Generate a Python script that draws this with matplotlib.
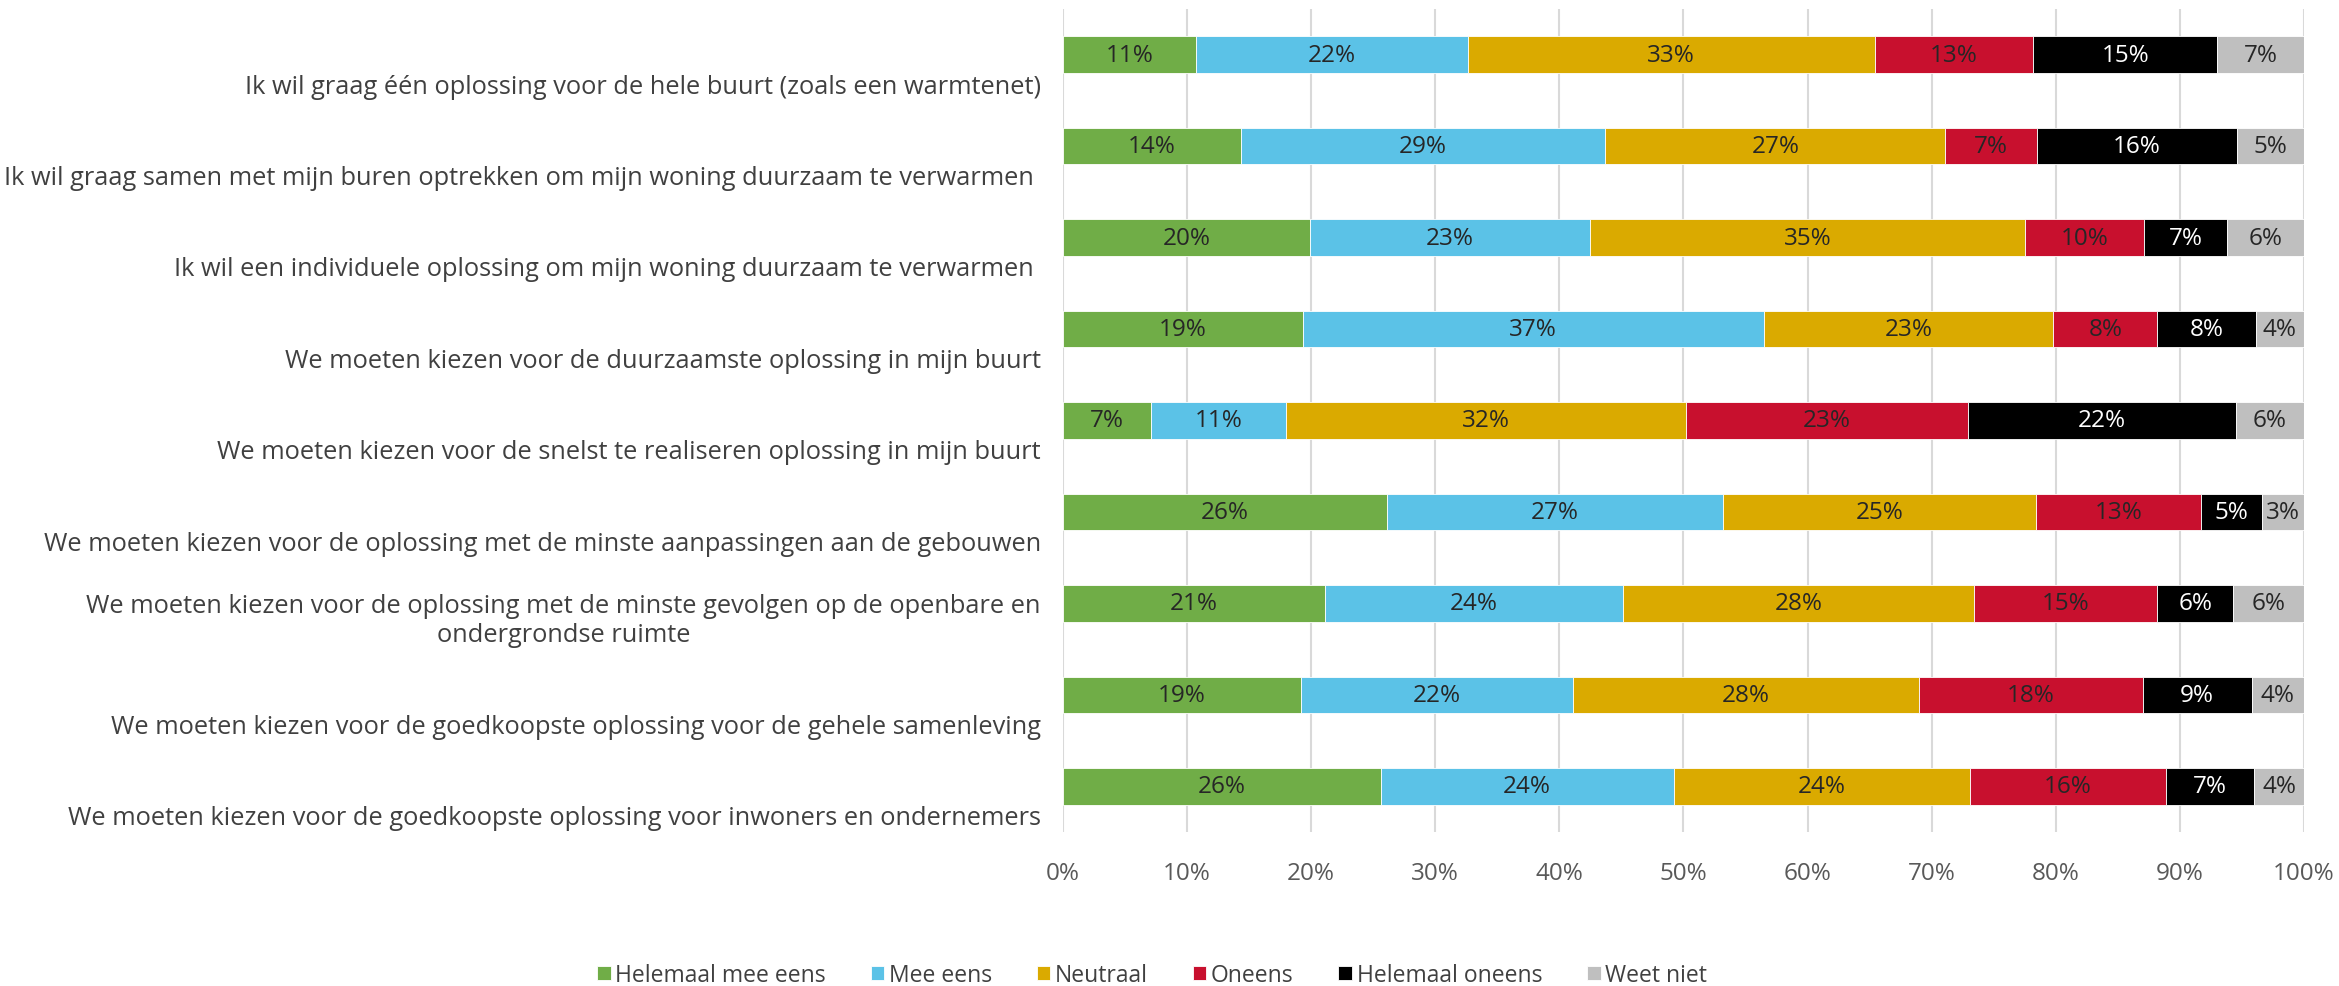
import matplotlib.pyplot as plt
import numpy as np

plt.rcParams['font.family'] = ['Open Sans', 'DejaVu Sans']

# categorieen (van boven naar beneden)
categories = [
    'Ik wil graag één oplossing voor de hele buurt (zoals een warmtenet)',
    'Ik wil graag samen met mijn buren optrekken om mijn woning duurzaam te verwarmen ',
    'Ik wil een individuele oplossing om mijn woning duurzaam te verwarmen ',
    'We moeten kiezen voor de duurzaamste oplossing in mijn buurt',
    'We moeten kiezen voor de snelst te realiseren oplossing in mijn buurt',
    'We moeten kiezen voor de oplossing met de minste aanpassingen aan de gebouwen',
    'We moeten kiezen voor de oplossing met de minste gevolgen op de openbare en\nondergrondse ruimte',
    'We moeten kiezen voor de goedkoopste oplossing voor de gehele samenleving',
    'We moeten kiezen voor de goedkoopste oplossing voor inwoners en ondernemers',
]

series_names = ['Helemaal mee eens', 'Mee eens', 'Neutraal', 'Oneens',
                'Helemaal oneens', 'Weet niet']

helemaal_mee_eens = [10.7, 14.3, 19.9, 19.3, 7.1, 26.1, 21.1, 19.2, 25.6]
mee_eens = [21.9, 29.4, 22.6, 37.2, 10.9, 27.1, 24.0, 21.9, 23.6]
neutraal = [32.8, 27.4, 35.0, 23.3, 32.2, 25.2, 28.3, 27.9, 23.9]
oneens = [12.8, 7.4, 9.6, 8.4, 22.7, 13.3, 14.8, 18.0, 15.8]
helemaal_oneens = [14.8, 16.1, 6.7, 7.9, 21.6, 4.9, 6.1, 8.8, 7.1]
weet_niet = [7.0, 5.4, 6.2, 3.9, 5.6, 3.4, 5.7, 4.2, 4.0]

series = [helemaal_mee_eens, mee_eens, neutraal, oneens, helemaal_oneens, weet_niet]
colors = ['#70AD47', '#5BC2E7', '#DAAA00', '#C8102E', '#000000', '#BFBFBF']
text_colors = ['#262626', '#262626', '#262626', '#262626', '#FFFFFF', '#262626']

fig = plt.figure(figsize=(23.39, 9.87), dpi=100)
ax = fig.add_axes([0.4545, 0.156, 0.5305, 0.8339])

y = np.arange(len(categories))
left = np.zeros(len(categories))
for name, vals, col, tcol in zip(series_names, series, colors, text_colors):
    vals = np.array(vals)
    bars = ax.barh(y, vals, left=left, height=0.4, color=col, label=name,
                   edgecolor='white', linewidth=0.6, zorder=3)
    ax.bar_label(bars, labels=[f'{v:.0f}%' for v in vals], label_type='center',
                 color=tcol, fontsize=17.5)
    left += vals

ax.set_xlim(0, 100)
ax.set_ylim(len(categories) - 0.5, -0.5)
ax.set_xticks(np.arange(0, 101, 10))
ax.set_xticklabels([f'{t}%' for t in range(0, 101, 10)], fontsize=17.5,
                   color='#595959')
ax.set_yticks(y + 0.48)
ax.set_yticklabels(categories, fontsize=18.3, color='#404040')
for lab in ax.get_yticklabels():
    lab.set_verticalalignment('bottom')
    lab.set_multialignment('center')
ax.tick_params(axis='y', length=0, pad=16)
ax.tick_params(axis='x', length=0, pad=21)
ax.grid(axis='x', color='#D9D9D9', linewidth=1.5, zorder=0)
for s in ax.spines.values():
    s.set_visible(False)

fig.legend(loc='center', bbox_to_anchor=(0.4925, 0.011), ncol=6, frameon=False,
           handlelength=0.6, handleheight=0.6, handletextpad=0.2,
           columnspacing=1.95, labelcolor='#404040', prop={'size': 16.5})

fig.savefig('out.png', dpi=100)
